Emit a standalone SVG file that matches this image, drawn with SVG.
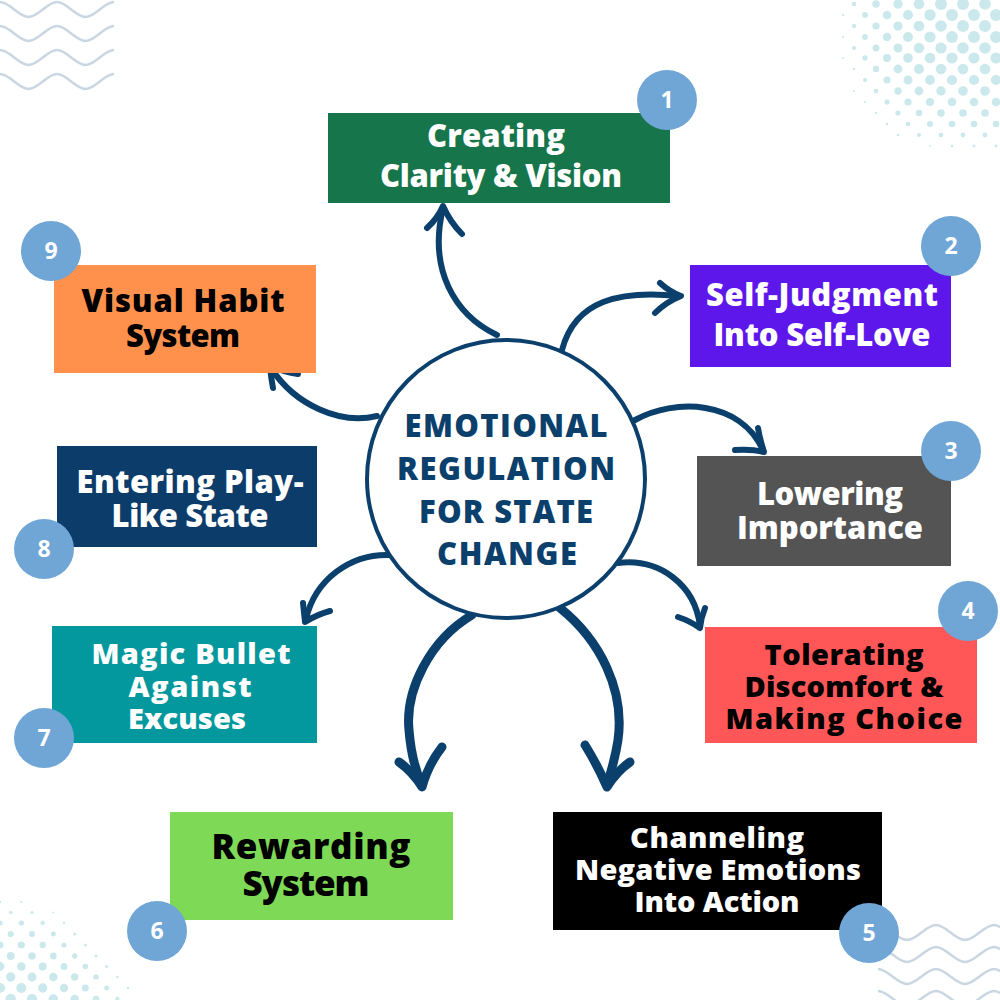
<svg xmlns="http://www.w3.org/2000/svg" width="1000" height="1000" viewBox="0 0 1000 1000">
<defs>
<style>
.bt { font-family: "Open Sans", "Noto Sans", "DejaVu Sans", sans-serif; font-weight: 800; font-size: 31px; text-anchor: middle; }
.s3 { font-size: 29px; }
.w { fill: #ffffff; }
.k { fill: #000000; }
.badge circle { fill: #6FA6D6; }
.badge text { font-family: "Open Sans", "Noto Sans", sans-serif; font-weight: 700; font-size: 23px; fill: #ffffff; text-anchor: middle; }
.ct { font-family: "Open Sans", "Noto Sans", sans-serif; font-weight: 800; font-size: 31px; fill: #0B406D; text-anchor: middle; }
.arr { fill: none; stroke: #0B406D; stroke-width: 6; stroke-linecap: round; stroke-linejoin: round; }
.big { stroke-width: 9; }
.wave { fill: none; stroke: #CAD6E2; stroke-width: 2.5; }
.dots circle { fill: #CBE9EC; }
</style>
</defs>
<rect width="1000" height="1000" fill="#ffffff"/>

<g id="decor-waves-tl" class="wave">
<path d="M0,2 C10,2 18.5,17 28.5,17 S47,2 57,2 S75.5,17 85.5,17 S104,2 114,2"/>
<path d="M0,26 C10,26 18.5,41 28.5,41 S47,26 57,26 S75.5,41 85.5,41 S104,26 114,26"/>
<path d="M0,50 C10,50 18.5,65 28.5,65 S47,50 57,50 S75.5,65 85.5,65 S104,50 114,50"/>
<path d="M0,74 C10,74 18.5,89 28.5,89 S47,74 57,74 S75.5,89 85.5,89 S104,74 114,74"/>
</g>
<g id="decor-waves-br" class="wave">
<path d="M878,925 C888,925 897,940 907,940 S926,925 936,925 S955,940 965,940 S984,925 994,925 S1013,940 1023,940"/>
<path d="M878,947 C888,947 897,962 907,962 S926,947 936,947 S955,962 965,962 S984,947 994,947 S1013,962 1023,962"/>
<path d="M878,969 C888,969 897,984 907,984 S926,969 936,969 S955,984 965,984 S984,969 994,969 S1013,984 1023,984"/>
<path d="M878,991 C888,991 897,1006 907,1006 S926,991 936,991 S955,1006 965,1006 S984,991 994,991 S1013,1006 1023,1006"/>
</g>

<g id="decor-dots-tr" class="dots">
<circle cx="854" cy="4" r="2.3"/><circle cx="876" cy="4" r="3.7"/><circle cx="898" cy="4" r="4.7"/><circle cx="919" cy="4" r="5.3"/><circle cx="941" cy="4" r="6"/><circle cx="963" cy="4" r="6"/><circle cx="985" cy="4" r="5.8"/>
<circle cx="843" cy="15" r="1.2"/><circle cx="865" cy="15" r="3"/><circle cx="887" cy="15" r="4.3"/><circle cx="908" cy="15" r="5"/><circle cx="930" cy="15" r="5.7"/><circle cx="952" cy="15" r="6"/><circle cx="974" cy="15" r="6"/><circle cx="996" cy="15" r="6"/>
<circle cx="854" cy="26" r="2.2"/><circle cx="876" cy="26" r="3.6"/><circle cx="898" cy="26" r="4.6"/><circle cx="919" cy="26" r="5.3"/><circle cx="941" cy="26" r="5.8"/><circle cx="963" cy="26" r="6"/><circle cx="985" cy="26" r="6"/>
<circle cx="843" cy="37" r="1.1"/><circle cx="865" cy="37" r="2.9"/><circle cx="887" cy="37" r="4.2"/><circle cx="908" cy="37" r="5"/><circle cx="930" cy="37" r="5.6"/><circle cx="952" cy="37" r="5.9"/><circle cx="974" cy="37" r="6"/><circle cx="996" cy="37" r="6"/>
<circle cx="854" cy="48" r="2"/><circle cx="876" cy="48" r="3.5"/><circle cx="898" cy="48" r="4.5"/><circle cx="919" cy="48" r="5.2"/><circle cx="941" cy="48" r="5.6"/><circle cx="963" cy="48" r="5.8"/><circle cx="985" cy="48" r="5.8"/>
<circle cx="843" cy="58" r="0.9"/><circle cx="865" cy="58" r="2.7"/><circle cx="887" cy="58" r="4"/><circle cx="908" cy="58" r="4.8"/><circle cx="930" cy="58" r="5.3"/><circle cx="952" cy="58" r="5.6"/><circle cx="974" cy="58" r="5.6"/><circle cx="996" cy="58" r="5.6"/>
<circle cx="854" cy="69" r="1.2"/><circle cx="876" cy="69" r="3.2"/><circle cx="898" cy="69" r="4.4"/><circle cx="919" cy="69" r="5"/><circle cx="941" cy="69" r="5.3"/><circle cx="963" cy="69" r="5.3"/><circle cx="985" cy="69" r="5.3"/>
<circle cx="865" cy="80" r="2"/><circle cx="887" cy="80" r="3.6"/><circle cx="908" cy="80" r="4.5"/><circle cx="930" cy="80" r="5"/><circle cx="952" cy="80" r="5.1"/><circle cx="974" cy="80" r="5.1"/><circle cx="996" cy="80" r="5.1"/>
<circle cx="854" cy="91" r="1"/><circle cx="876" cy="91" r="2.3"/><circle cx="898" cy="91" r="3.7"/><circle cx="919" cy="91" r="4.4"/><circle cx="941" cy="91" r="4.7"/><circle cx="963" cy="91" r="4.8"/><circle cx="985" cy="91" r="4.8"/>
<circle cx="865" cy="102" r="1"/><circle cx="887" cy="102" r="2.6"/><circle cx="908" cy="102" r="3.6"/><circle cx="930" cy="102" r="4.1"/><circle cx="952" cy="102" r="4.3"/><circle cx="974" cy="102" r="4.3"/><circle cx="996" cy="102" r="4.3"/>
<circle cx="876" cy="113" r="1.2"/><circle cx="898" cy="113" r="2.6"/><circle cx="919" cy="113" r="3.3"/><circle cx="941" cy="113" r="3.7"/><circle cx="963" cy="113" r="3.8"/><circle cx="985" cy="113" r="3.8"/>
<circle cx="887" cy="124" r="1.3"/><circle cx="908" cy="124" r="2.3"/><circle cx="930" cy="124" r="3"/><circle cx="952" cy="124" r="3.3"/><circle cx="974" cy="124" r="3.3"/><circle cx="996" cy="124" r="3.3"/>
<circle cx="898" cy="135" r="1.3"/><circle cx="919" cy="135" r="2"/><circle cx="941" cy="135" r="2.3"/><circle cx="963" cy="135" r="2.4"/><circle cx="985" cy="135" r="2.4"/>
<circle cx="930" cy="146" r="1"/><circle cx="952" cy="146" r="1.3"/><circle cx="974" cy="146" r="1.4"/><circle cx="996" cy="146" r="1.4"/>
</g>

<g id="decor-dots-bl" class="dots">
<circle cx="0" cy="902" r="1.2"/><circle cx="21.3" cy="902" r="1"/>
<circle cx="10.7" cy="912.5" r="1.8"/><circle cx="32" cy="912.5" r="1.6"/><circle cx="53.3" cy="912.5" r="1"/>
<circle cx="0" cy="923" r="2.6"/><circle cx="21.3" cy="923" r="2.6"/><circle cx="42.7" cy="923" r="2.2"/><circle cx="64" cy="923" r="1.3"/>
<circle cx="10.7" cy="934" r="3.1"/><circle cx="32" cy="934" r="3"/><circle cx="53.3" cy="934" r="2.5"/><circle cx="74.7" cy="934" r="1.5"/>
<circle cx="0" cy="945" r="3.6"/><circle cx="21.3" cy="945" r="3.6"/><circle cx="42.7" cy="945" r="3.2"/><circle cx="64" cy="945" r="2.6"/><circle cx="85.3" cy="945" r="1.5"/>
<circle cx="10.7" cy="956" r="4"/><circle cx="32" cy="956" r="3.8"/><circle cx="53.3" cy="956" r="3.4"/><circle cx="74.7" cy="956" r="2.7"/><circle cx="96" cy="956" r="1.5"/>
<circle cx="0" cy="966.5" r="4.4"/><circle cx="21.3" cy="966.5" r="4.3"/><circle cx="42.7" cy="966.5" r="4"/><circle cx="64" cy="966.5" r="3.5"/><circle cx="85.3" cy="966.5" r="2.8"/><circle cx="106.7" cy="966.5" r="1.5"/>
<circle cx="10.7" cy="977" r="4.7"/><circle cx="32" cy="977" r="4.5"/><circle cx="53.3" cy="977" r="4.3"/><circle cx="74.7" cy="977" r="3.7"/><circle cx="96" cy="977" r="2.8"/><circle cx="117.3" cy="977" r="1.3"/>
<circle cx="0" cy="988" r="5.1"/><circle cx="21.3" cy="988" r="5"/><circle cx="42.7" cy="988" r="4.7"/><circle cx="64" cy="988" r="4.2"/><circle cx="85.3" cy="988" r="3.5"/><circle cx="106.7" cy="988" r="2.5"/><circle cx="128" cy="988" r="1.2"/>
<circle cx="10.7" cy="999" r="5.2"/><circle cx="32" cy="999" r="5.1"/><circle cx="53.3" cy="999" r="4.7"/><circle cx="74.7" cy="999" r="4.3"/><circle cx="96" cy="999" r="3.3"/><circle cx="117.3" cy="999" r="2.2"/>
</g>

<g id="connectors">
<path class="arr" d="M497,335 C455,315 428,270 443,208"/>
<path class="arr" d="M427,228 Q438,218 443,206 Q450,222 462,234"/>
<path class="arr" d="M562,350 C575,300 620,290 679,296"/>
<path class="arr" d="M660,283 Q670,292 681,296 Q666,302 655,313"/>
<path class="arr" d="M377,416 C340,425 295,405 271,368"/>
<path class="arr" d="M273,388 Q271,378 270,366 Q284,372 298,374"/>
<path class="arr" d="M391,555 C350,553 315,580 306,619"/>
<path class="arr" d="M303,603 Q304,612 305,622 Q318,614 330,611"/>
<path class="arr" d="M635,420 C675,398 740,400 763,450"/>
<path class="arr" d="M735,450 Q752,449 764,452 Q760,440 758,428"/>
<path class="arr" d="M618,563 C660,558 695,585 700,626"/>
<path class="arr" d="M678,617 Q690,621 700,628 Q701,618 705,608"/>
<path class="arr big" d="M472,615 C430,640 405,690 409,730 C411,755 416,772 422,785"/>
<path class="arr big" d="M399,762 Q413,772 422,787 Q428,765 442,747"/>
<path class="arr big" d="M560,608 C600,640 625,690 618,740 C615,760 610,775 607,785"/>
<path class="arr big" d="M585,745 Q598,766 607,787 Q616,772 630,762"/>
</g>

<g id="center">
<circle cx="506" cy="479" r="139" fill="#ffffff" stroke="#0B406D" stroke-width="4"/>
<text class="ct" x="506" y="437" textLength="203">EMOTIONAL</text>
<text class="ct" x="506" y="480" textLength="218">REGULATION</text>
<text class="ct" x="506" y="523" textLength="174">FOR STATE</text>
<text class="ct" x="507" y="565" textLength="140">CHANGE</text>
</g>

<g id="node1">
<rect x="328" y="113" width="342" height="90" fill="#16754A"/>
<text class="bt w" x="496" y="147" textLength="138">Creating</text>
<text class="bt w" x="501" y="187" textLength="242">Clarity &amp; Vision</text>
<g class="badge"><circle cx="667" cy="100" r="30"/><text x="667" y="108">1</text></g>
</g>

<g id="node2">
<rect x="690" y="265" width="261" height="102" fill="#5E17EB"/>
<text class="bt w" x="822" y="306" textLength="232">Self-Judgment</text>
<text class="bt w" x="822" y="346" textLength="217">Into Self-Love</text>
<g class="badge"><circle cx="951" cy="246" r="30"/><text x="951" y="254">2</text></g>
</g>

<g id="node3">
<rect x="697" y="456" width="254" height="110" fill="#545454"/>
<text class="bt w" x="830" y="505" textLength="146">Lowering</text>
<text class="bt w" x="830" y="539" textLength="186">Importance</text>
<g class="badge"><circle cx="951" cy="451" r="30"/><text x="951" y="459">3</text></g>
</g>

<g id="node4">
<rect x="705" y="627" width="272" height="116" fill="#FF5757"/>
<text class="bt s3 k" x="844" y="665" textLength="159">Tolerating</text>
<text class="bt s3 k" x="844" y="697" textLength="199">Discomfort &amp;</text>
<text class="bt s3 k" x="844" y="729" textLength="237">Making Choice</text>
<g class="badge"><circle cx="968" cy="611" r="30"/><text x="968" y="619">4</text></g>
</g>

<g id="node5">
<rect x="553" y="812" width="329" height="118" fill="#000000"/>
<text class="bt s3 w" x="717" y="848" textLength="174">Channeling</text>
<text class="bt s3 w" x="718" y="880" textLength="286">Negative Emotions</text>
<text class="bt s3 w" x="717" y="912" textLength="165">Into Action</text>
<g class="badge"><circle cx="869" cy="933" r="30"/><text x="869" y="941">5</text></g>
</g>

<g id="node6">
<rect x="170" y="812" width="283" height="108" fill="#7ED957"/>
<text class="bt k" x="311" y="859" style="font-size:35px" textLength="199">Rewarding</text>
<text class="bt k" x="306" y="896" style="font-size:35px" textLength="127">System</text>
<g class="badge"><circle cx="157" cy="931" r="30"/><text x="157" y="939">6</text></g>
</g>

<g id="node7">
<rect x="52" y="626" width="265" height="117" fill="#03989E"/>
<text class="bt s3 w" x="191" y="664" textLength="199">Magic Bullet</text>
<text class="bt s3 w" x="190" y="697" textLength="123">Against</text>
<text class="bt s3 w" x="187" y="729" textLength="118">Excuses</text>
<g class="badge"><circle cx="44" cy="738" r="30"/><text x="44" y="746">7</text></g>
</g>

<g id="node8">
<rect x="57" y="446" width="260" height="101" fill="#0C3C6A"/>
<text class="bt w" x="190" y="493" textLength="227">Entering Play-</text>
<text class="bt w" x="190" y="527" textLength="157">Like State</text>
<g class="badge"><circle cx="44" cy="549" r="30"/><text x="44" y="557">8</text></g>
</g>

<g id="node9">
<rect x="54" y="265" width="262" height="108" fill="#FF914D"/>
<text class="bt k" x="183" y="312" textLength="203">Visual Habit</text>
<text class="bt k" x="183" y="347" textLength="114">System</text>
<g class="badge"><circle cx="51" cy="251" r="30"/><text x="51" y="259">9</text></g>
</g>
</svg>
